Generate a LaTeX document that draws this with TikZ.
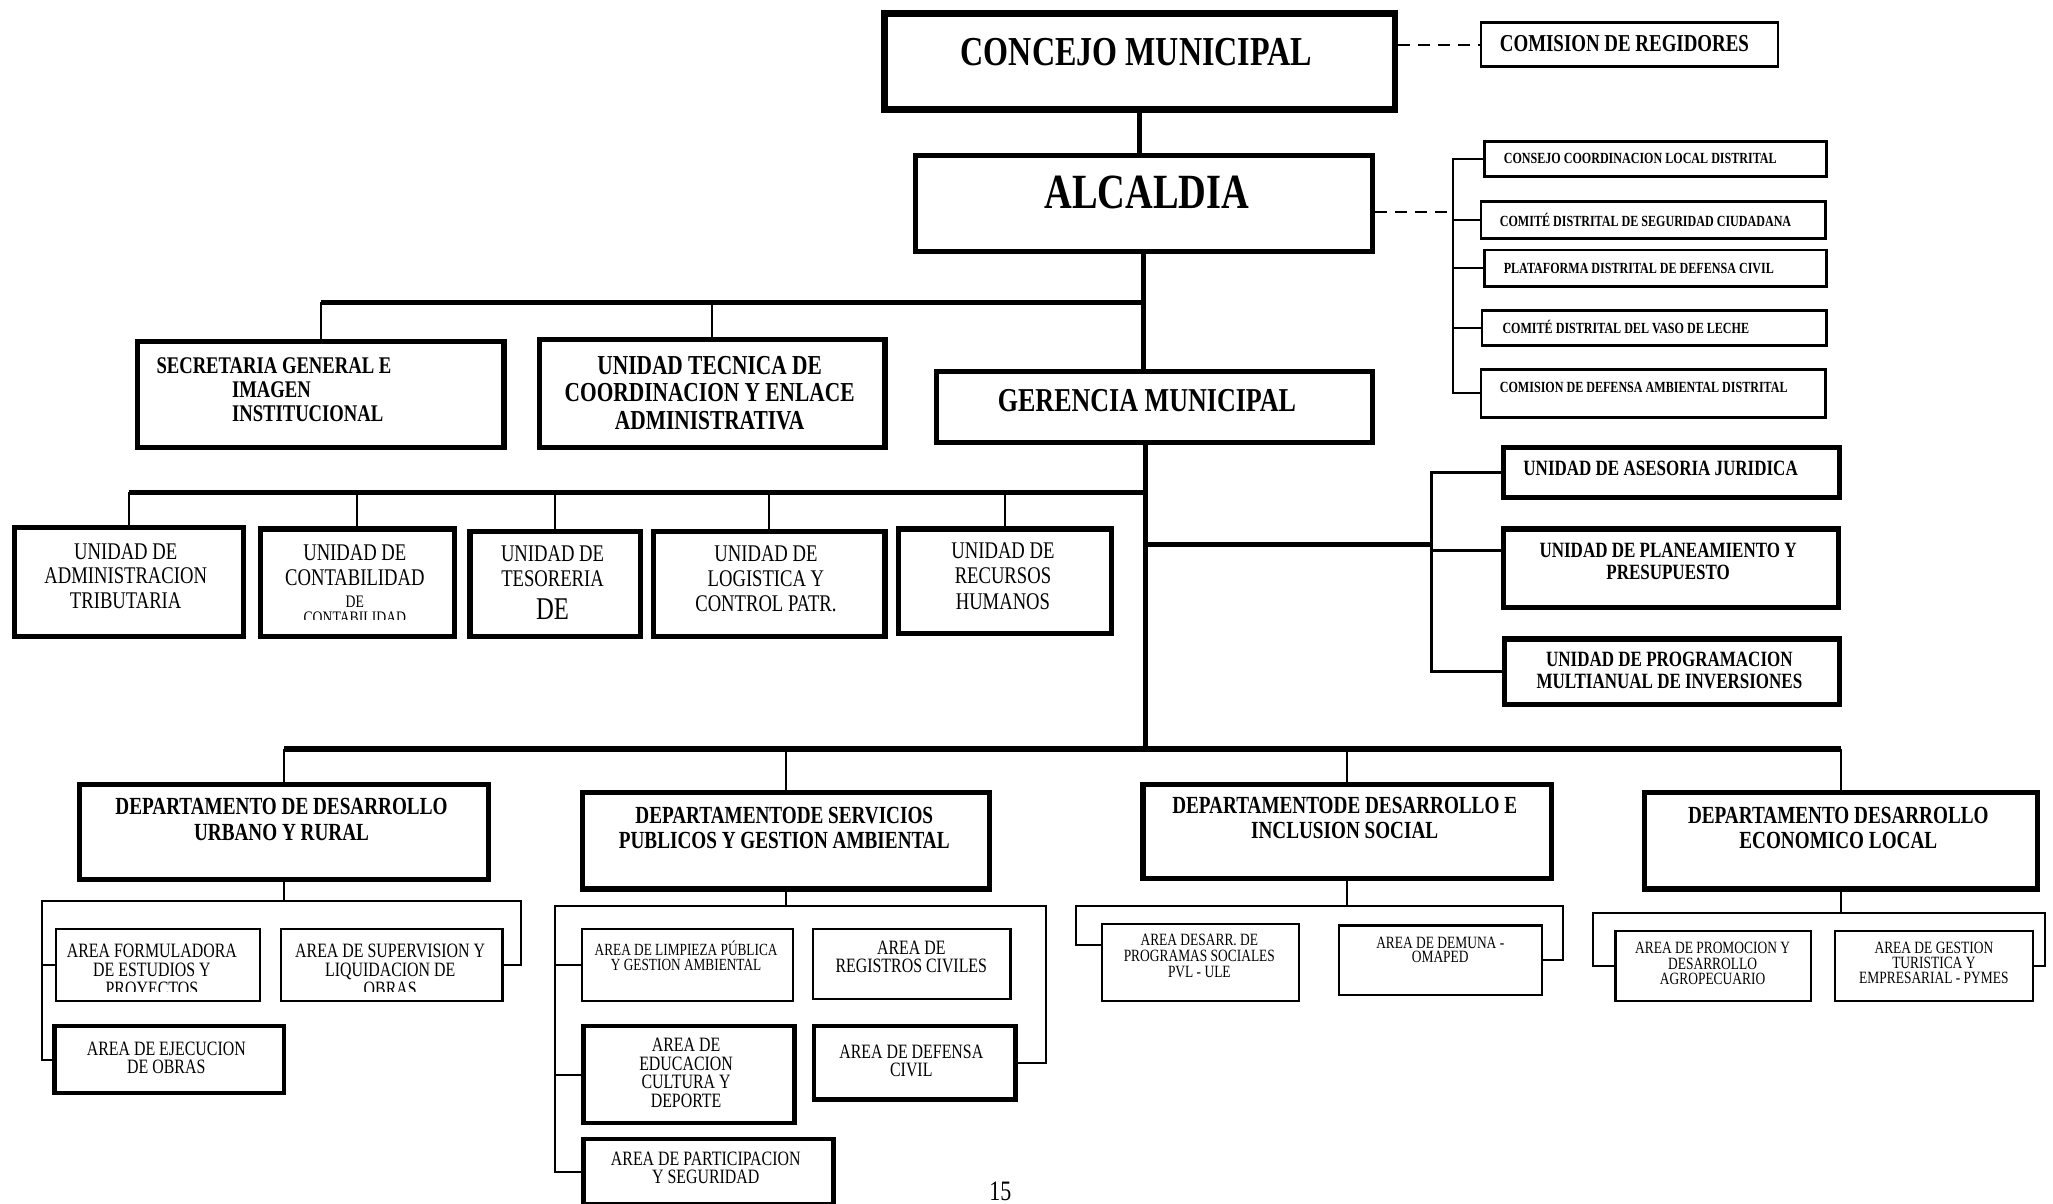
\documentclass[tikz,border=0pt]{standalone}
\usepackage{fontspec}
\setmainfont{Liberation Serif}[FakeStretch=0.78]
\usetikzlibrary{calc}
\def\u{0.013093cm}
\def\orgbox[#1](#2)(#3,#4:#5,#6){\node[#1, anchor=north west, minimum width={(#5-#3)*\u}, minimum height={(#6-#4)*\u}] (#2) at (#3,#4) {};}
\newcommand\fsz[2]{\fontsize{#1}{#2}\selectfont}
\tikzset{
	bigbox/.style={draw, line width=0.66mm, inner sep=0pt},
	heavybox/.style={draw, line width=0.52mm, inner sep=0pt},
	midbox/.style={draw, line width=0.45mm, inner sep=0pt},
	thinbox/.style={draw, line width=0.26mm, inner sep=0pt},
	areabox/.style={draw, line width=0.21mm, inner sep=0pt},
	txt/.style={inner sep=0pt, align=center},
	trunk/.style={line width=0.52mm},
	mid/.style={line width=0.32mm},
	branch/.style={line width=0.2mm},
	link/.style={line width=0.2mm, dashed, dash pattern=on 1.2mm off 0.8mm}
}

\begin{document}
\begin{tikzpicture}[x=\u, y=-\u]
			%%%%% START %%%%%
			\useasboundingbox (0,0) rectangle (1568,919);
			
			\orgbox[bigbox](concejo)(673,8:1063,81)
			\node[txt, font=\bfseries\fsz{11.7}{12}] (concejo-t) at (868,40) {CONCEJO MUNICIPAL};
			\orgbox[thinbox](comreg)(1130,16:1357,50)
			\node[txt, anchor=west, font=\bfseries\fsz{6.9}{7}] (comreg-t) at (1145,33) {COMISION DE REGIDORES};
			
			\orgbox[heavybox](alcaldia)(697,117:1046,190)
			\node[txt, font=\bfseries\fsz{14}{14}] (alcaldia-t) at (876,147) {ALCALDIA};
			
			\orgbox[thinbox](cons)(1133,107:1394,134)
			\orgbox[thinbox](comite)(1130,153:1393,181)
			\orgbox[thinbox](plat)(1133,190:1394,218)
			\orgbox[thinbox](vaso)(1131,236:1394,263)
			\orgbox[thinbox](comamb)(1130,281:1393,318)
			\node[txt, anchor=west, font=\bfseries\fsz{4.4}{5}] (cons-t) at (1148,121) {CONSEJO COORDINACION LOCAL DISTRITAL};
			\node[txt, anchor=west, font=\bfseries\fsz{4.4}{5}] (comite-t) at (1145,168) {COMITÉ DISTRITAL DE SEGURIDAD CIUDADANA};
			\node[txt, anchor=west, font=\bfseries\fsz{4.4}{5}] (plat-t) at (1148,205) {PLATAFORMA DISTRITAL DE DEFENSA CIVIL};
			\node[txt, anchor=west, font=\bfseries\fsz{4.4}{5}] (vaso-t) at (1147,250) {COMITÉ DISTRITAL DEL VASO DE LECHE};
			\node[txt, anchor=west, font=\bfseries\fsz{4.4}{5}] (comamb-t) at (1145,296) {COMISION DE DEFENSA AMBIENTAL DISTRITAL};
			
			\orgbox[heavybox](sec)(103,259:383,340)
			\node[txt, align=left, anchor=west, font=\bfseries\fsz{6.8}{6.9}] (sec-t) at (119,297.5) {SECRETARIA GENERAL E\\\hspace*{21.5pt}IMAGEN\\\hspace*{21.5pt}INSTITUCIONAL};
			\orgbox[heavybox](ute)(410,257:674,340)
			\node[txt, font=\bfseries\fsz{7.8}{7.8}] (ute-t) at (542,300) {UNIDAD TECNICA DE\\COORDINACION Y ENLACE\\ADMINISTRATIVA};
			\orgbox[heavybox](gerencia)(713,282:1046,336)
			\node[txt, font=\bfseries\fsz{9.5}{10}] (gerencia-t) at (876,306) {GERENCIA MUNICIPAL};
			
			\orgbox[heavybox](adm)(9,401:184,484)
			\orgbox[heavybox](cont)(197,402:345,484)
			\orgbox[heavybox](tes)(357,404:487,484)
			\orgbox[heavybox](log)(497,404:674,484)
			\orgbox[heavybox](rrhh)(684,402:847,482)
			\node[txt, font=\fsz{6.8}{7.05}] (adm-t) at (96,440) {UNIDAD DE\\ADMINISTRACION\\TRIBUTARIA};
			\node[txt, font=\fsz{6.8}{7.05}] (cont-t) at (271,431.5) {UNIDAD DE\\CONTABILIDAD};
			\begin{scope}
				\clip (cont.north west) rectangle (345,473.5);
				\node[txt, anchor=north, font=\fsz{5}{4.6}] (cont-s) at (271,454.5) {DE\\CONTABILIDAD};
			\end{scope}
			\node[txt, font=\fsz{6.8}{7.05}] (tes-t) at (422,432.5) {UNIDAD DE\\TESORERIA};
			\node[txt, font=\fsz{9}{9}] (tes-s) at (422,465) {DE};
			\node[txt, font=\fsz{6.8}{7.2}] (log-t) at (585,442) {UNIDAD DE\\LOGISTICA Y\\CONTROL PATR.};
			\node[txt, font=\fsz{6.8}{7.2}] (rrhh-t) at (766,440) {UNIDAD DE\\RECURSOS\\HUMANOS};
			
			\orgbox[heavybox](ases)(1146,340:1403,378)
			\orgbox[heavybox](plan)(1146,402:1402,462)
			\orgbox[heavybox](progm)(1147,486:1403,536)
			\node[txt, anchor=west, font=\bfseries\fsz{6.2}{6.3}] (ases-t) at (1163,358) {UNIDAD DE ASESORIA JURIDICA};
			\node[txt, font=\bfseries\fsz{6.2}{6.3}] (plan-t) at (1274,428.5) {UNIDAD DE PLANEAMIENTO Y\\PRESUPUESTO};
			\node[txt, font=\bfseries\fsz{6.2}{6.1}] (progm-t) at (1275,512) {UNIDAD DE PROGRAMACION\\MULTIANUAL DE INVERSIONES};
			
			\orgbox[heavybox](d1)(59,597:371,670)
			\orgbox[heavybox](d2)(443,603:754,677)
			\orgbox[heavybox](d3)(871,597:1183,669)
			\orgbox[heavybox](d4)(1254,603:1554,677)
			\node[txt, font=\bfseries\fsz{7}{7.4}] (d1-t) at (215,626) {DEPARTAMENTO DE DESARROLLO\\URBANO Y RURAL};
			\node[txt, font=\bfseries\fsz{7}{7.1}] (d2-t) at (599,632.5) {DEPARTAMENTODE SERVICIOS\\PUBLICOS Y GESTION AMBIENTAL};
			\node[txt, font=\bfseries\fsz{7}{7.1}] (d3-t) at (1027,624.5) {DEPARTAMENTODE DESARROLLO E\\INCLUSION SOCIAL};
			\node[txt, font=\bfseries\fsz{7}{7.1}] (d4-t) at (1404,632.5) {DEPARTAMENTO DESARROLLO\\ECONOMICO LOCAL};
			
			\orgbox[areabox](form)(42,709:198,764)
			\orgbox[areabox](sup)(214,709:383,764)
			\orgbox[midbox](ejec)(40,782:215,833)
			\begin{scope}
				\clip (form.north west) rectangle (383,757);
				\node[txt, anchor=north, font=\fsz{5.8}{5.4}] (form-t) at (116,720.5) {AREA FORMULADORA\\DE ESTUDIOS Y\\PROYECTOS};
				\node[txt, anchor=north, font=\fsz{5.8}{5.4}] (sup-t) at (298,720.5) {AREA DE SUPERVISION Y\\LIQUIDACION DE\\OBRAS};
			\end{scope}
			\node[txt, font=\fsz{5.8}{5.2}] (ejec-t) at (127,808) {AREA DE EJECUCION\\DE OBRAS};
			
			\orgbox[areabox](limp)(444,709:605,764)
			\orgbox[areabox](reg)(620,709:771,762)
			\orgbox[midbox](edu)(444,782:605,856)
			\orgbox[midbox](def)(620,782:774,838)
			\orgbox[midbox](part)(444,868:635,918)
			\node[txt, font=\fsz{4.85}{4.45}] (limp-t) at (524,730) {AREA DE LIMPIEZA PÚBLICA\\Y GESTION AMBIENTAL};
			\node[txt, font=\fsz{5.8}{5.2}] (reg-t) at (696,731) {AREA DE\\REGISTROS CIVILES};
			\node[txt, font=\fsz{5.8}{5.3}] (edu-t) at (524,819.5) {AREA DE\\EDUCACION\\CULTURA Y\\DEPORTE};
			\node[txt, font=\fsz{5.8}{5.2}] (def-t) at (696,810) {AREA DE DEFENSA\\CIVIL};
			\node[txt, font=\fsz{5.8}{5.2}] (part-t) at (539,892) {AREA DE PARTICIPACION\\Y SEGURIDAD};
			
			\orgbox[areabox](pvl)(841,705:991,764)
			\orgbox[areabox](dem)(1022,706:1177,759)
			\orgbox[areabox](promo)(1233,710:1382,764)
			\orgbox[areabox](gest)(1401,710:1552,764)
			\node[txt, font=\fsz{4.9}{4.45}] (pvl-t) at (916,730) {AREA DESARR. DE\\PROGRAMAS SOCIALES\\PVL - ULE};
			\node[txt, font=\fsz{4.9}{4.2}] (dem-t) at (1100,725.5) {AREA DE DEMUNA -\\OMAPED};
			\node[txt, font=\fsz{4.9}{4.45}] (promo-t) at (1308,736) {AREA DE PROMOCION Y\\DESARROLLO\\AGROPECUARIO};
			\node[txt, font=\fsz{4.9}{4.2}] (gest-t) at (1477,735.5) {AREA DE GESTION\\TURISTICA Y\\EMPRESARIAL - PYMES};
			
			\node[txt, font=\fsz{8}{8}] (page) at (764,910) {15};
			
			% connectors
			\coordinate (abr) at (1110,162);
			\coordinate (bus1) at (871.5,231);
			\coordinate (bus2) at (875,376);
			\coordinate (rbus) at (1093,416);
			\coordinate (spine) at (875,572);
			
			\draw[link] (concejo.east |- comreg.west) -- (comreg.west);
			\draw[trunk] (concejo.south) -- (concejo.south |- alcaldia.north);
			\draw[link] (alcaldia.east |- abr) -- (abr);
			\draw[branch] (cons.west) -| (abr) |- (comamb.west);
			\foreach \n in {comite,plat,vaso} \draw[branch] (\n.west) -- (\n.west -| abr);
			
			\draw[trunk] (alcaldia.south) -- (alcaldia.south |- gerencia.north);
			\draw[trunk] (sec.north |- bus1) -- (bus1);
			\foreach \n in {sec,ute} \draw[branch] (\n.north) -- (\n.north |- bus1);
			
			\draw[trunk] (gerencia.south -| spine) -- (spine);
			\draw[trunk] (adm.north |- bus2) -- (bus2);
			\foreach \n in {adm,cont,tes,log,rrhh} \draw[branch] (\n.north) -- (\n.north |- bus2);
			
			\draw[trunk] (spine |- rbus) -- (rbus);
			\draw[mid] (ases.west) -| (rbus) |- (progm.west);
			\draw[mid] (plan.174) -- (plan.174 -| rbus);
			
			\draw[trunk] (d1.north |- spine) -- (d4.north |- spine);
			\foreach \n in {d1,d2,d3,d4} \draw[branch] (\n.north) -- (\n.north |- spine);
			
			\coordinate (s1l) at (32,688); \coordinate (s1r) at (398,688);
			\draw[branch] (d1.south) -- (d1.south |- s1l);
			\draw[branch] (form.west) -| (s1l) -- (s1r) |- (sup.east);
			\draw[branch] (ejec.west) -| (s1l);
			
			\coordinate (s2l) at (424,692); \coordinate (s2r) at (799,692);
			\draw[branch] (d2.south) -- (d2.south |- s2l);
			\draw[branch] (limp.west) -| (s2l) -- (s2r) |- (def.east);
			\draw[branch] (part.west) -| (s2l);
			\draw[branch] (edu.west) -- (edu.west -| s2l);
			
			\coordinate (s3l) at (822,692); \coordinate (s3r) at (1194,692);
			\draw[branch] (d3.south) -- (d3.south |- s3l);
			\draw[branch] (pvl.170) -| (s3l) -- (s3r) |- (dem.east);
			
			\coordinate (s4l) at (1217,697); \coordinate (s4r) at (1562,697);
			\draw[branch] (d4.south) -- (d4.south |- s4l);
			\draw[branch] (promo.west) -| (s4l) -- (s4r) |- (gest.east);
			
			%%%%% END %%%%%
\end{tikzpicture}
\end{document}
